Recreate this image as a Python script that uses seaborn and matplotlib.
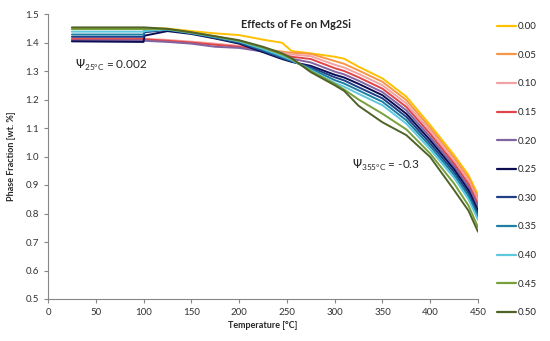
import numpy as np
import pandas as pd
import matplotlib
matplotlib.use('Agg')
import matplotlib.pyplot as plt
import seaborn as sns

# temperature grid [°C]
temps = [25, 100, 101, 125, 150, 175, 200, 225, 245, 255, 275, 300, 310, 325, 350, 375, 400, 425, 440, 450]

fe_labels = ['0.00', '0.05', '0.10', '0.15', '0.20', '0.25', '0.30', '0.35', '0.40', '0.45', '0.50']

fe_000 = [1.451, 1.451, 1.451, 1.449, 1.440, 1.432, 1.426, 1.410, 1.399, 1.370, 1.362, 1.350, 1.343, 1.315, 1.274, 1.210, 1.110, 1.005, 0.935, 0.865]
fe_005 = [1.410, 1.410, 1.410, 1.406, 1.401, 1.394, 1.387, 1.377, 1.368, 1.364, 1.360, 1.335, 1.325, 1.302, 1.262, 1.198, 1.100, 0.995, 0.925, 0.855]
fe_010 = [1.414, 1.414, 1.413, 1.409, 1.403, 1.396, 1.388, 1.376, 1.364, 1.358, 1.352, 1.322, 1.312, 1.290, 1.250, 1.186, 1.090, 0.985, 0.915, 0.845]
fe_015 = [1.412, 1.412, 1.411, 1.406, 1.400, 1.392, 1.385, 1.372, 1.358, 1.350, 1.342, 1.310, 1.300, 1.278, 1.238, 1.174, 1.079, 0.975, 0.904, 0.833]
fe_020 = [1.407, 1.407, 1.406, 1.402, 1.396, 1.385, 1.381, 1.368, 1.352, 1.343, 1.330, 1.298, 1.288, 1.266, 1.226, 1.162, 1.068, 0.965, 0.893, 0.822]
fe_025 = [1.404, 1.402, 1.424, 1.440, 1.430, 1.414, 1.396, 1.366, 1.342, 1.332, 1.318, 1.287, 1.277, 1.255, 1.215, 1.150, 1.057, 0.955, 0.882, 0.810]
fe_030 = [1.420, 1.420, 1.436, 1.444, 1.432, 1.416, 1.399, 1.370, 1.345, 1.334, 1.313, 1.278, 1.267, 1.243, 1.204, 1.139, 1.046, 0.945, 0.872, 0.800]
fe_035 = [1.428, 1.428, 1.446, 1.445, 1.433, 1.418, 1.402, 1.374, 1.349, 1.336, 1.308, 1.268, 1.256, 1.232, 1.192, 1.127, 1.036, 0.935, 0.861, 0.790]
fe_040 = [1.438, 1.438, 1.440, 1.446, 1.434, 1.420, 1.404, 1.378, 1.353, 1.339, 1.303, 1.258, 1.245, 1.220, 1.180, 1.115, 1.025, 0.925, 0.850, 0.778]
fe_045 = [1.447, 1.447, 1.447, 1.447, 1.435, 1.421, 1.406, 1.382, 1.358, 1.342, 1.300, 1.255, 1.235, 1.200, 1.150, 1.095, 1.010, 0.905, 0.828, 0.752]
fe_050 = [1.453, 1.453, 1.453, 1.448, 1.436, 1.422, 1.408, 1.385, 1.362, 1.345, 1.296, 1.250, 1.230, 1.178, 1.120, 1.075, 0.998, 0.882, 0.810, 0.736]

series = [fe_000, fe_005, fe_010, fe_015, fe_020, fe_025, fe_030, fe_035, fe_040, fe_045, fe_050]

colors = ['#FFC000', '#F79646', '#F2A2A2', '#E0454A', '#8064A2', '#0C0C52',
          '#1F3F86', '#1D7FA3', '#5DC8DE', '#77A03A', '#4F6228']

frames = []
for lab, vals in zip(fe_labels, series):
    frames.append(pd.DataFrame({'T': temps, 'phase': vals, 'Fe': lab}))
df = pd.concat(frames, ignore_index=True)

sns.set_style('white')
plt.rcParams['font.family'] = ['Lato', 'DejaVu Sans']

fig = plt.figure(figsize=(5.5, 3.41), dpi=100)
ax = fig.add_axes([48 / 550, 1 - 299 / 341, 430 / 550, 285 / 341])

sns.lineplot(data=df, x='T', y='phase', hue='Fe', hue_order=fe_labels,
             palette=colors, estimator=None, sort=True, linewidth=1.4, ax=ax)

ax.set_xlim(0, 450)
ax.set_ylim(0.5, 1.5)
ax.set_xticks(np.arange(0, 451, 50))
ax.set_yticks(np.arange(0.5, 1.51, 0.1))
ax.yaxis.set_major_formatter(matplotlib.ticker.FormatStrFormatter('%.1f'))
ax.tick_params(axis='both', labelsize=7, colors='#868686', labelcolor='#333333',
               length=3, width=0.8, direction='out', bottom=True, left=True)
for s in ['top', 'right']:
    ax.spines[s].set_visible(False)
for s in ['left', 'bottom']:
    ax.spines[s].set_color('#868686')
    ax.spines[s].set_linewidth(0.8)

ax.set_xlabel('Temperature [°C]', fontsize=6.5, fontweight='bold', labelpad=3)
ax.set_ylabel('Phase Fraction [wt. %]', fontsize=6.5, fontweight='bold', labelpad=7)

fig.text(296 / 550, 1 - 25 / 341, 'Effects of Fe on Mg2Si', fontsize=7.8,
         fontweight='bold', ha='center', va='center')

ax.text(28, 1.32, r'$\Psi_{\mathregular{25°C}}$ = 0.002', fontsize=8.5, va='center')
ax.text(318, 0.97, r'$\Psi_{\mathregular{355°C}}$ = -0.3', fontsize=8.5, va='center')

leg = ax.legend(loc='upper left', bbox_to_anchor=(497 / 550, 1 - 22 / 341),
                bbox_transform=fig.transFigure, frameon=False, fontsize=7,
                handlelength=2.0, handletextpad=0.1, labelspacing=2.02,
                borderpad=0, borderaxespad=0)
for h in leg.get_lines():
    h.set_linewidth(1.6)

fig.savefig('out.png', dpi=100)
